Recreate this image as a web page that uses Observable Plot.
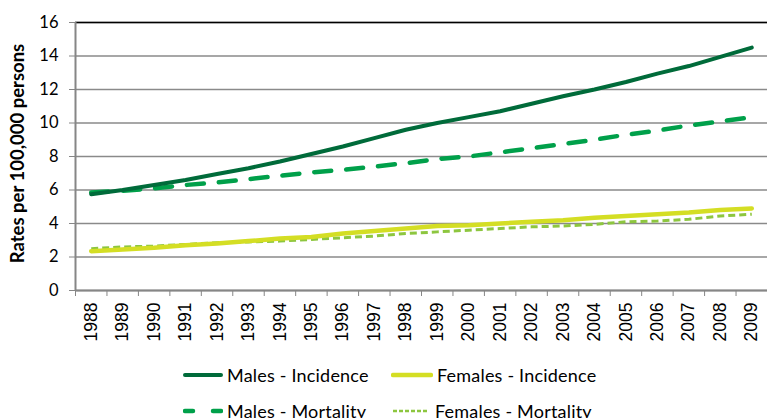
<!DOCTYPE html>
<html>
<head>
<meta charset="utf-8">
<script src="https://cdn.jsdelivr.net/npm/d3@7"></script>
<script src="https://cdn.jsdelivr.net/npm/@observablehq/plot@0.6"></script>
<style>
  html, body { margin: 0; padding: 0; background: #fff; }
  #wrap { width: 767px; height: 418px; overflow: hidden; position: relative; }
  #legend { position: relative; width: 767px; height: 68px; font-family: Lato, "Open Sans", sans-serif; font-size: 18px; color: #000; }
  .item { position: absolute; display: flex; align-items: center; height: 24px; }
  .item svg { display: block; }
  .item span { margin-left: 4px; white-space: nowrap; letter-spacing: 0.2px; }
</style>
</head>
<body>
<div id="wrap">
  <div id="chart"></div>
  <div id="legend"></div>
</div>
<script>
const years = [1988,1989,1990,1991,1992,1993,1994,1995,1996,1997,1998,1999,2000,2001,2002,2003,2004,2005,2006,2007,2008,2009];
const malesIncidence   = [5.75,6.0,6.3,6.6,6.95,7.3,7.7,8.15,8.6,9.1,9.6,10.0,10.35,10.7,11.15,11.6,12.0,12.45,12.95,13.4,13.95,14.5];
const malesMortality   = [5.85,5.95,6.1,6.3,6.45,6.65,6.85,7.05,7.2,7.4,7.6,7.85,8.0,8.25,8.5,8.75,9.0,9.3,9.55,9.85,10.1,10.35];
const femalesIncidence = [2.35,2.45,2.55,2.7,2.8,2.95,3.1,3.2,3.4,3.55,3.7,3.85,3.9,4.0,4.1,4.2,4.35,4.45,4.55,4.65,4.8,4.9];
const femalesMortality = [2.5,2.6,2.65,2.75,2.85,2.9,2.95,3.05,3.15,3.25,3.4,3.5,3.6,3.7,3.8,3.85,3.95,4.1,4.15,4.25,4.45,4.55];
const yTicks = [0,2,4,6,8,10,12,14,16];
const seriesNames = ["Males - Incidence","Females - Incidence","Males - Mortality","Females - Mortality"];
const yLabel = "Rates per 100,000 persons";

const series = [
  {name: seriesNames[0], values: malesIncidence,   stroke: "#006B3A", width: 4,   dash: null,  cap: "round"},
  {name: seriesNames[1], values: femalesIncidence, stroke: "#D4DE24", width: 4.5, dash: null,  cap: "round"},
  {name: seriesNames[2], values: malesMortality,   stroke: "#00A04A", width: 4.5, dash: "17,15", cap: "round"},
  {name: seriesNames[3], values: femalesMortality, stroke: "#8DC63F", width: 3,   dash: "7,4", cap: "butt"}
];
const boundaries = years.map(y => y - 0.5).concat([years[years.length - 1] + 0.5]);

const lineMarks = [series[3], series[1], series[2], series[0]].map(s =>
  Plot.lineY(years.map((yr, i) => ({year: yr, value: s.values[i]})), {
    x: "year", y: "value", stroke: s.stroke, strokeWidth: s.width,
    strokeDasharray: s.dash, strokeLinecap: s.cap, strokeLinejoin: "round"
  })
);

const chart = Plot.plot({
  width: 767,
  height: 350,
  marginLeft: 75,
  marginRight: 0,
  marginTop: 22,
  marginBottom: 60,
  style: {fontFamily: "Lato, sans-serif", background: "#fff", color: "#000"},
  x: {domain: [boundaries[0], boundaries[boundaries.length - 1]]},
  y: {domain: [0, 16]},
  marks: [
    Plot.gridY(yTicks, {stroke: "#8a8a8a", strokeOpacity: 1, strokeWidth: 1.3}),
    Plot.ruleY([16], {stroke: "#000", strokeWidth: 1.5}),
    Plot.ruleY([0], {stroke: "#868686", strokeWidth: 2}),
    Plot.ruleX([boundaries[0]], {stroke: "#868686", strokeWidth: 2}),
    Plot.axisY({ticks: yTicks, tickSize: 6, tickPadding: 11, stroke: "#868686", fill: "#000", fontSize: 16.5, label: null}),
    Plot.axisX({ticks: boundaries, tickSize: 6, stroke: "#868686", fill: "none", label: null}),
    Plot.axisX({ticks: years, tickSize: 0, tickPadding: 12, tickRotate: -90, tickFormat: d => String(d),
                fontSize: 17.5, fontFamily: "Liberation Sans, Arial, sans-serif", fill: "#000", label: null}),
    Plot.text([yLabel], {text: d => d, frameAnchor: "left", textAnchor: "middle", rotate: -90, dx: -57, dy: -3, fontWeight: "bold", fontSize: 18.5, fill: "#000"}),
    ...lineMarks
  ]
});
document.getElementById("chart").appendChild(chart);

// Legend
const legend = document.getElementById("legend");
const legendLayout = [
  {s: series[0], left: 183, top: 13, sw: 40},
  {s: series[1], left: 391, top: 13, sw: 42},
  {s: series[2], left: 183, top: 49, sw: 40},
  {s: series[3], left: 393, top: 49, sw: 38}
];
legendLayout.forEach(({s, left, top, sw}) => {
  const div = document.createElement("div");
  div.className = "item";
  div.style.left = left + "px";
  div.style.top = top + "px";
  const dash = s.name === seriesNames[2] ? "8,20" : (s.name === seriesNames[3] ? "4,2" : (s.dash || ""));
  const w = s.name === seriesNames[3] ? 2.5 : s.width;
  div.innerHTML = `<svg width="${sw}" height="10"><line x1="${s.cap === 'round' ? 2 : 0}" x2="${sw - 2}" y1="5" y2="5" stroke="${s.stroke}" stroke-width="${w}" stroke-linecap="${s.cap}" ${dash ? `stroke-dasharray="${dash}"` : ""}/></svg><span>${s.name}</span>`;
  legend.appendChild(div);
});
</script>
</body>
</html>
